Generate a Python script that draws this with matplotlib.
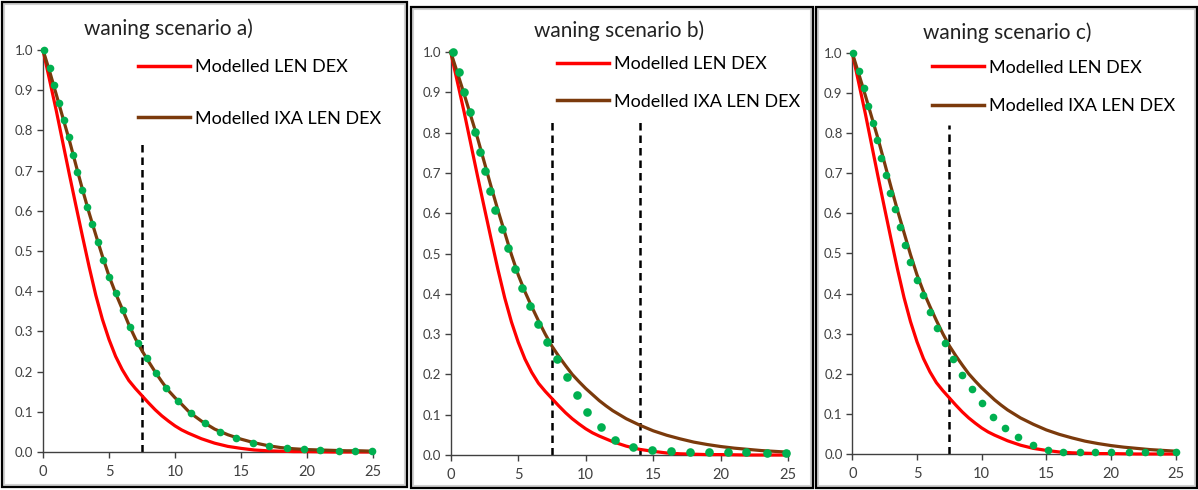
import numpy as np
import matplotlib
matplotlib.use("Agg")
import matplotlib.pyplot as plt
from matplotlib.patches import Rectangle
from matplotlib.lines import Line2D

plt.rcParams['font.family'] = ['Lato', 'DejaVu Sans']

# x grid of the modelled curves
x_model = [0, 0.5, 1, 1.5, 2, 2.5, 3, 3.5, 4, 4.5, 5, 5.5, 6, 6.5, 7, 7.5, 8, 8.5,
           9, 9.5, 10, 10.5, 11, 11.5, 12, 13, 14, 15, 16, 17, 18, 19, 20, 21,
           22, 23, 24, 25]

# Modelled LEN DEX (same in all panels)
len_dex = [1.0, 0.925, 0.85, 0.77, 0.69, 0.612, 0.535, 0.46, 0.39, 0.33,
           0.28, 0.238, 0.205, 0.178, 0.158, 0.14, 0.122, 0.105, 0.09, 0.077,
           0.065, 0.055, 0.047, 0.04, 0.033, 0.022, 0.014, 0.009, 0.005, 0.003,
           0.002, 0.001, 0.001, 0.0005, 0.0, 0.0, 0.0, 0.0]

# Modelled IXA LEN DEX, panel a
ixa_a = [1.0, 0.947, 0.89, 0.832, 0.775, 0.713, 0.652, 0.594, 0.54, 0.487,
         0.438, 0.395, 0.356, 0.317, 0.282, 0.252, 0.225, 0.199, 0.175, 0.153,
         0.135, 0.119, 0.102, 0.089, 0.077, 0.057, 0.043, 0.032, 0.023, 0.016,
         0.011, 0.008, 0.006, 0.005, 0.004, 0.003, 0.003, 0.002]

# Modelled IXA LEN DEX, panels b and c
ixa_bc = [1.0, 0.948, 0.895, 0.84, 0.785, 0.725, 0.665, 0.607, 0.552, 0.497,
          0.447, 0.405, 0.368, 0.333, 0.3, 0.27, 0.245, 0.222, 0.2, 0.182,
          0.165, 0.15, 0.135, 0.122, 0.11, 0.09, 0.074, 0.06, 0.049, 0.04,
          0.032, 0.026, 0.021, 0.017, 0.014, 0.011, 0.009, 0.007]

# green dots (observed)
dots_a_x = [0.1, 0.53, 0.86, 1.24, 1.59, 1.97, 2.3, 2.6, 2.98, 3.36, 3.74, 4.19,
            4.57, 5.03, 5.5, 6.04, 6.59, 7.17, 7.85, 8.56, 9.32, 10.25, 11.19,
            12.27, 13.4, 14.6, 15.9, 17.1, 18.5, 19.8, 21.0, 22.4, 23.6, 24.9]
dots_a_y = [1.0, 0.955, 0.912, 0.868, 0.826, 0.784, 0.739, 0.696, 0.652, 0.609,
            0.566, 0.523, 0.478, 0.436, 0.395, 0.353, 0.31, 0.272, 0.233, 0.196,
            0.16, 0.127, 0.096, 0.071, 0.05, 0.036, 0.023, 0.015, 0.009, 0.007,
            0.005, 0.003, 0.003, 0.002]

dots_b_x = [0.15, 0.64, 1.0, 1.43, 1.8, 2.17, 2.54, 2.91, 3.28, 3.78, 4.27, 4.76,
            5.26, 5.87, 6.49, 7.15, 7.85, 8.59, 9.33, 10.1, 11.1, 12.2, 13.5,
            14.9, 16.3, 17.7, 19.1, 20.5, 21.9, 23.4, 24.8]
dots_b_y = [1.0, 0.951, 0.901, 0.852, 0.802, 0.753, 0.705, 0.656, 0.608, 0.56,
            0.513, 0.461, 0.415, 0.37, 0.325, 0.281, 0.237, 0.193, 0.149, 0.106,
            0.069, 0.037, 0.019, 0.012, 0.01, 0.008, 0.007, 0.007, 0.007, 0.006,
            0.006]

dots_c_x = [0.08, 0.54, 0.9, 1.24, 1.58, 1.88, 2.22, 2.58, 2.92, 3.3, 3.69, 4.08,
            4.46, 4.98, 5.49, 6.01, 6.58, 7.17, 7.81, 8.51, 9.23, 10.0, 10.86,
            11.81, 12.84, 13.97, 15.1, 16.3, 17.6, 18.8, 20.0, 21.4, 22.6, 23.8,
            25.0]
dots_c_y = [1.0, 0.955, 0.913, 0.869, 0.825, 0.782, 0.739, 0.697, 0.652, 0.61,
            0.565, 0.521, 0.479, 0.435, 0.396, 0.355, 0.313, 0.276, 0.238, 0.197,
            0.161, 0.126, 0.093, 0.064, 0.042, 0.022, 0.01, 0.006, 0.005, 0.004,
            0.004, 0.004, 0.004, 0.005, 0.006]

# vertical dashed markers
cut_a = [7.5]
cut_b = [7.5, 14]
cut_c = [7.5]
cut_top = [0.77, 0.83, 0.82]

titles = ['waning scenario a)', 'waning scenario b)', 'waning scenario c)']
labels = ['Modelled LEN DEX', 'Modelled IXA LEN DEX']

W, H = 1198, 490
fig = plt.figure(figsize=(W / 100, H / 100), dpi=100)

# panel frames (pixels: x0, y0, x1, y1)
frames = [(2, 2, 407, 487), (411, 7, 813, 488), (816, 7, 1197, 488)]
for x0, y0, x1, y1 in frames:
    fig.add_artist(Rectangle((x0 / W + 2 / W, 1 - y1 / H + 2 / H), (x1 - x0 - 4) / W, (y1 - y0 - 4) / H,
                             transform=fig.transFigure, fill=False, ec='#d0d0d0', lw=1.5))
    fig.add_artist(Rectangle((x0 / W, 1 - y1 / H), (x1 - x0) / W, (y1 - y0) / H,
                             transform=fig.transFigure, fill=False, ec='black', lw=1.6))

# axes boxes in pixels: left, right, top(y=1), bottom(y=0)
boxes = [(43, 373, 50, 452), (450.7, 788.3, 52, 455), (852.3, 1175.7, 53, 454)]
legend_pos = [(0.288, 0.978), (0.315, 0.99), (0.246, 0.983)]
legend_space = [1.98, 1.2, 1.25]
title_pos = [(0.379, 1.052), (0.50, 1.052), (0.478, 1.051)]

red = '#ff0000'
brown = '#7b3a0c'
green = '#00b050'

panels = [
    (ixa_a, dots_a_x, dots_a_y, cut_a),
    (ixa_bc, dots_b_x, dots_b_y, cut_b),
    (ixa_bc, dots_c_x, dots_c_y, cut_c),
]

for i, (ixa, dx, dy, cuts) in enumerate(panels):
    l, r, t, b = boxes[i]
    ax = fig.add_axes([l / W, 1 - b / H, (r - l) / W, (b - t) / H])
    ax.plot(x_model, len_dex, color=red, lw=2.3, clip_on=False, zorder=3)
    ax.plot(x_model, ixa, color=brown, lw=2.3, clip_on=False, zorder=3)
    ax.plot(dx, dy, 'o', color=green, ms=6.2 if i == 1 else 5.5, mec='none',
            clip_on=False, zorder=4)
    ax.vlines(cuts, 0, cut_top[i], colors='black', lw=1.8,
              linestyles=(0, (3, 2)), zorder=2)

    ax.set_xlim(0, 25)
    ax.set_ylim(0, 1.0)
    ax.set_xticks([0, 5, 10, 15, 20, 25])
    ax.set_yticks(np.arange(0, 1.01, 0.1))
    ax.yaxis.set_major_formatter(plt.FormatStrFormatter('%.1f'))
    for s in ['top', 'right']:
        ax.spines[s].set_visible(False)
    for s in ['left', 'bottom']:
        ax.spines[s].set_color('#404040')
        ax.spines[s].set_linewidth(1.0)
    ax.tick_params(axis='both', direction='out', length=4, width=1.0,
                   color='#404040', labelcolor='#404040')
    ax.tick_params(axis='y', labelsize=9.5, pad=3)
    ax.tick_params(axis='x', labelsize=10.5, pad=5)

    handles = [Line2D([], [], color=red, lw=2.5), Line2D([], [], color=brown, lw=2.5)]
    ax.legend(handles, labels, loc='upper left', bbox_to_anchor=legend_pos[i],
              frameon=False, fontsize=13, handlelength=2.9, handletextpad=0.25,
              labelspacing=legend_space[i], borderpad=0, borderaxespad=0)

    ax.text(title_pos[i][0], title_pos[i][1], titles[i], transform=ax.transAxes,
            ha='center', va='center', fontsize=15, color='#222222')

fig.savefig('out.png', dpi=100)
